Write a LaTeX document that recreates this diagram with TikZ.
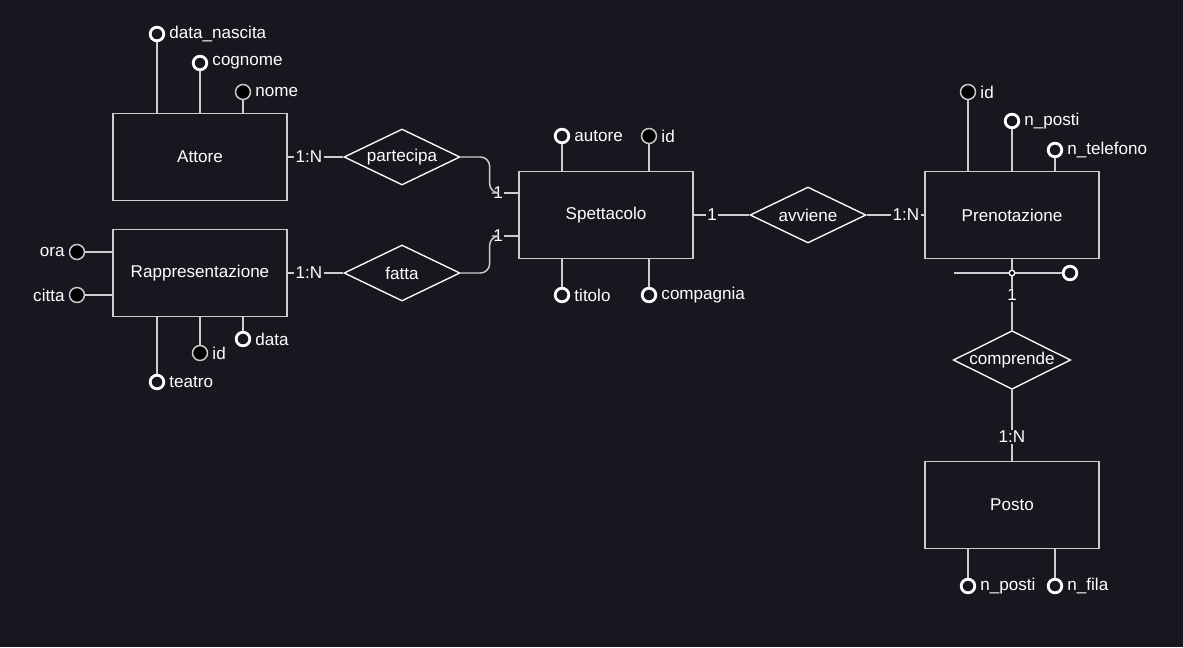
\documentclass[tikz,border=0pt]{standalone}
\usepackage{fontspec}
\setmainfont{Liberation Sans}
\usetikzlibrary{positioning, shapes.geometric, calc}

\definecolor{bgdark}{RGB}{24,23,31}
\definecolor{edgegray}{RGB}{205,205,205}

\begin{document}
\begin{tikzpicture}[
    x=0.75pt, y=-0.75pt,
    font=\fontsize{12.8}{15}\selectfont,
    every node/.style={text=white},
    entity/.style={
        rectangle,
        draw=edgegray,
        line width=1.1pt,
        fill=bgdark,
        minimum width=130.5pt,
        minimum height=65.25pt
    },
    relation/.style={
        diamond,
        aspect=2,
        draw=white,
        line width=1pt,
        fill=bgdark,
        inner sep=0pt,
        minimum width=87pt,
        minimum height=42pt
    },
    attr/.style={ % plain attribute
        circle,
        draw=white,
        line width=2.1pt,
        fill=bgdark,
        minimum size=10.2pt,
        inner sep=0pt
    },
    keyattr/.style={ % identifier
        circle,
        draw=edgegray,
        line width=1.1pt,
        fill=black,
        minimum size=11.2pt,
        inner sep=0pt
    },
    attrname/.style={inner sep=1pt},
    card/.style={fill=bgdark, inner sep=0.8pt},
    conn/.style={draw=edgegray, line width=1.1pt}
]

    \fill[bgdark] (0,0) rectangle (1183,647);

    % Entities
    \node[entity] (attore) at (200,157) {Attore};
    \node[entity] (rapp) at (200,273) {Rappresentazione};
    \node[entity] (spett) at (606,215) {Spettacolo};
    \node[entity] (pren) at (1012,215) {Prenotazione};
    \node[entity] (posto) at (1012,505) {Posto};

    % Relations
    \node[relation] (partecipa) at (402,157) {partecipa};
    \node[relation] (fatta) at (402,273) {fatta};
    \node[relation] (avviene) at (808,215) {avviene};
    \node[relation] (comprende) at (1012,360) {comprende};

    % Cardinalities
    \node[card] (c1) at (309,157) {1:N};
    \node[card] (c2) at (498,193) {1};
    \node[card] (c3) at (498,236) {1};
    \node[card] (c4) at (309,273) {1:N};
    \node[card] (c5) at (712,215) {1};
    \node[card] (c6) at (906,215) {1:N};
    \node[card] (c7) at (1012,295) {1};
    \node[card] (c8) at (1012,437) {1:N};

    \draw[conn] (attore) -- (c1) -- (partecipa);
    \draw[conn] (rapp) -- (c4) -- (fatta);
    \draw[conn, rounded corners=7pt] (partecipa.east) -- ($(partecipa.east)+(29,0)$) |- (c2);
    \draw[conn, rounded corners=7pt] (fatta.east) -- ($(fatta.east)+(29,0)$) |- (c3);
    \draw[conn] (c2) -- (c2 -| spett.west);
    \draw[conn] (c3) -- (c3 -| spett.west);
    \draw[conn] (spett) -- (c5) -- (avviene);
    \draw[conn] (avviene) -- (c6) -- (pren);
    \draw[conn] (c7) -- (comprende);
    \draw[conn] (comprende) -- (c8) -- (posto);

    % Attore
    \node[attr] (a_dn) at (157,34) {};
    \node[attrname, right=2pt of a_dn] (t_dn) {data\_nascita};
    \node[attr] (a_cog) at (200,63) {};
    \node[attrname, right=2pt of a_cog] (t_cog) {cognome};
    \node[keyattr] (a_nome) at (243,92) {};
    \node[attrname, right=2pt of a_nome] (t_nome) {nome};
    \draw[conn] (a_dn) -- (a_dn |- attore.north);
    \draw[conn] (a_cog) -- (a_cog |- attore.north);
    \draw[conn] (a_nome) -- (a_nome |- attore.north);

    % Rappresentazione
    \node[keyattr] (r_ora) at (77,252) {};
    \node[attrname, left=2pt of r_ora] (t_ora) {ora};
    \node[keyattr] (r_citta) at (77,295) {};
    \node[attrname, left=2pt of r_citta] (t_citta) {citta};
    \node[attr] (r_teatro) at (157,382) {};
    \node[attrname, right=2pt of r_teatro] (t_teatro) {teatro};
    \node[keyattr] (r_id) at (200,353) {};
    \node[attrname, right=2pt of r_id] (t_rid) {id};
    \node[attr] (r_data) at (243,339) {};
    \node[attrname, right=2pt of r_data] (t_data) {data};
    \draw[conn] (r_ora) -- (r_ora -| rapp.west);
    \draw[conn] (r_citta) -- (r_citta -| rapp.west);
    \draw[conn] (r_teatro) -- (r_teatro |- rapp.south);
    \draw[conn] (r_id) -- (r_id |- rapp.south);
    \draw[conn] (r_data) -- (r_data |- rapp.south);

    % Spettacolo
    \node[attr] (s_aut) at (562,136) {};
    \node[attrname, right=2pt of s_aut] (t_aut) {autore};
    \node[keyattr] (s_id) at (649,136) {};
    \node[attrname, right=2pt of s_id] (t_sid) {id};
    \node[attr] (s_tit) at (562,295) {};
    \node[attrname, right=2pt of s_tit] (t_tit) {titolo};
    \node[attr] (s_comp) at (649,295) {};
    \node[attrname, right=2pt of s_comp] (t_comp) {compagnia};
    \draw[conn] (s_aut) -- (s_aut |- spett.north);
    \draw[conn] (s_id) -- (s_id |- spett.north);
    \draw[conn] (s_tit) -- (s_tit |- spett.south);
    \draw[conn] (s_comp) -- (s_comp |- spett.south);

    % Prenotazione
    \node[keyattr] (p_id) at (968,92) {};
    \node[attrname, right=2pt of p_id] (t_pid) {id};
    \node[attr] (p_np) at (1012,121) {};
    \node[attrname, right=2pt of p_np] (t_pnp) {n\_posti};
    \node[attr] (p_tel) at (1055,150) {};
    \node[attrname, right=2pt of p_tel] (t_tel) {n\_telefono};
    \draw[conn] (p_id) -- (p_id |- pren.north);
    \draw[conn] (p_np) -- (p_np |- pren.north);
    \draw[conn] (p_tel) -- (p_tel |- pren.north);

    % composite identifier
    \node[keyattr, draw=white, line width=1pt, minimum size=4.2pt] (cid) at (1012,273) {};
    \node[attr] (p_cid) at (1070,273) {};
    \coordinate (cidl) at (954,273);
    \draw[conn] (pren) -- (cid) -- (c7);
    \draw[conn] (cidl) -- (cid) -- (p_cid);

    % Posto
    \node[attr] (po_np) at (968,586) {};
    \node[attrname, right=2pt of po_np] (t_ponp) {n\_posti};
    \node[attr] (po_fila) at (1055,586) {};
    \node[attrname, right=2pt of po_fila] (t_fila) {n\_fila};
    \draw[conn] (po_np) -- (po_np |- posto.south);
    \draw[conn] (po_fila) -- (po_fila |- posto.south);
\end{tikzpicture}
\end{document}
